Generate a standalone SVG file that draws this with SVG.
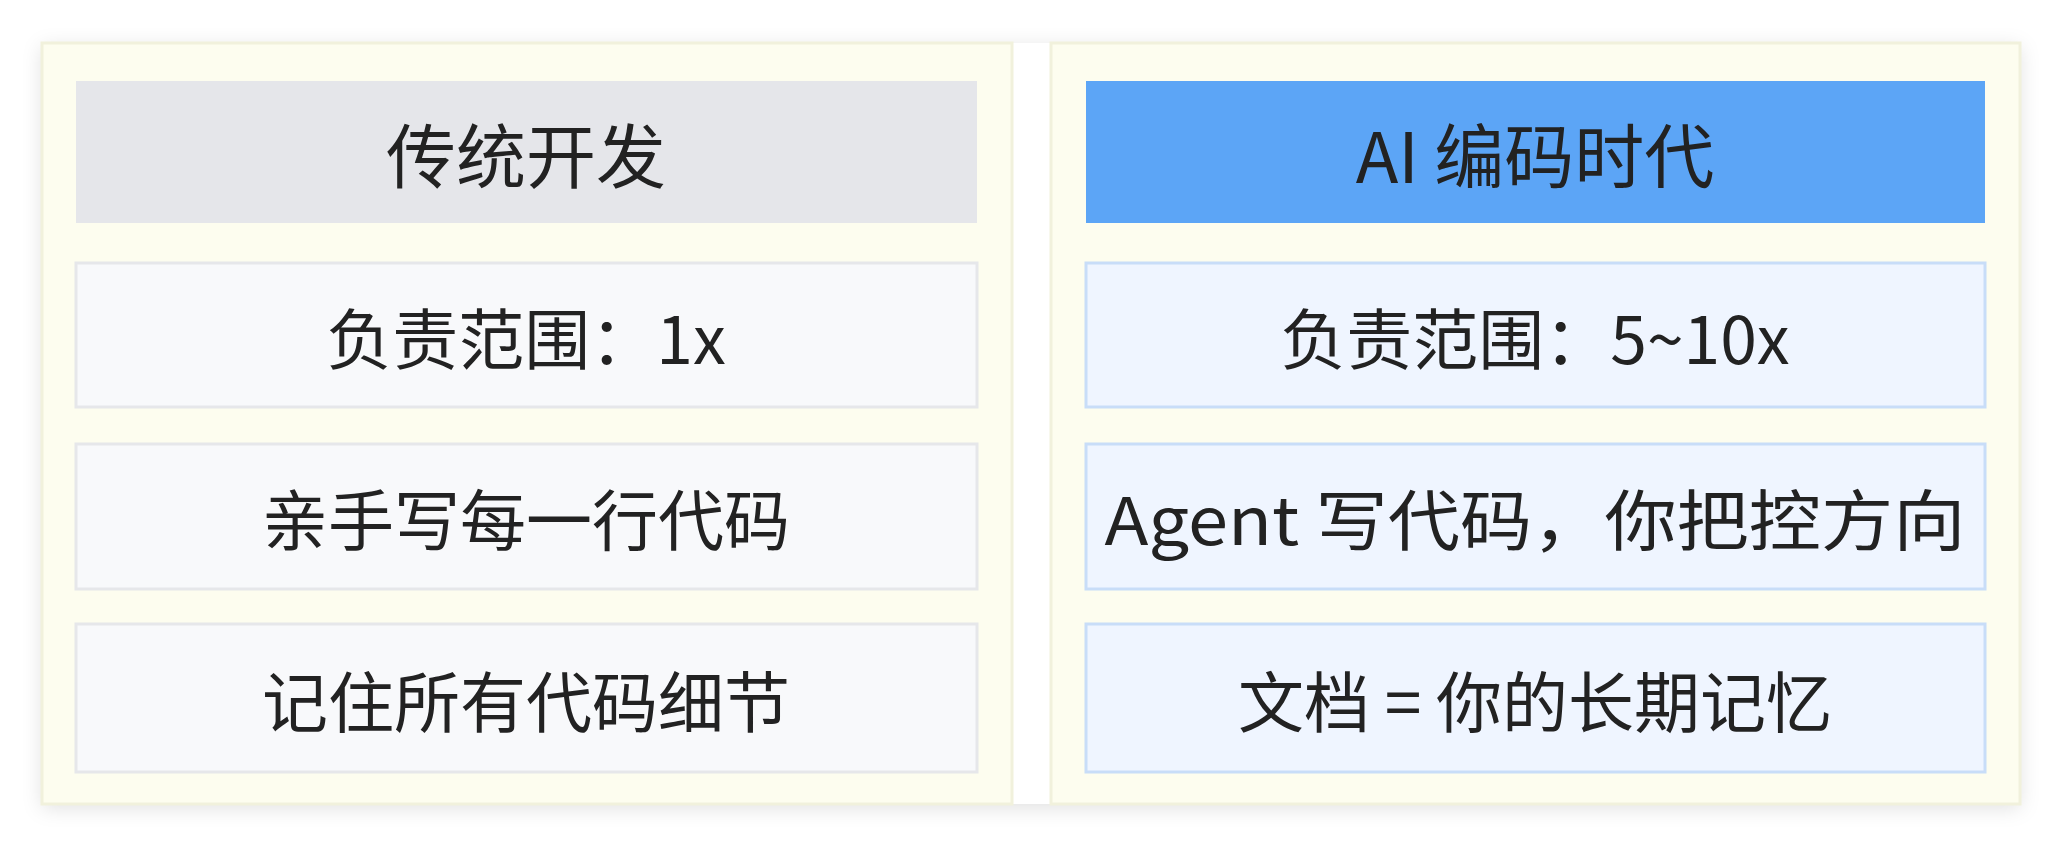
<svg xmlns="http://www.w3.org/2000/svg" width="2061" height="843" viewBox="0 0 2061 843">
<style>
.panel{fill:#fdfdef;stroke:#f1f1dc;stroke-width:3}
.row-l{fill:#f8f9fb;stroke:#e6e7ea;stroke-width:3}
.row-r{fill:#eff5ff;stroke:#c8ddf8;stroke-width:3}
text{font-family:"Noto Sans CJK SC","Noto Sans",sans-serif;fill:#222;text-anchor:middle;dominant-baseline:central}
.h{font-size:70px}
.t{font-size:66px}
</style>
<defs><filter id="sh" x="-5%" y="-5%" width="110%" height="110%"><feDropShadow dx="0" dy="4" stdDeviation="10" flood-color="#000" flood-opacity="0.12"/></filter></defs>
<rect width="2061" height="843" fill="#ffffff"/>
<rect x="42" y="43" width="1978" height="761" fill="#fff" filter="url(#sh)"/>
<g id="left">
<rect class="panel" x="42" y="43" width="970" height="761"/>
<g id="l-head"><rect x="76" y="81" width="901" height="142" fill="#e5e6ea"/><text class="h" x="526" y="152">传统开发</text></g>
<g id="l-1"><rect class="row-l" x="76" y="263" width="901" height="144"/><text class="t" x="526" y="335">负责范围：1x</text></g>
<g id="l-2"><rect class="row-l" x="76" y="444" width="901" height="145"/><text class="t" x="526" y="516">亲手写每一行代码</text></g>
<g id="l-3"><rect class="row-l" x="76" y="624" width="901" height="148"/><text class="t" x="526" y="698">记住所有代码细节</text></g>
</g>
<g id="right">
<rect class="panel" x="1051" y="43" width="969" height="761"/>
<g id="r-head"><rect x="1086" y="81" width="899" height="142" fill="#5ca5f6"/><text class="h" x="1535" y="152">AI 编码时代</text></g>
<g id="r-1"><rect class="row-r" x="1086" y="263" width="899" height="144"/><text class="t" x="1535" y="335">负责范围：5~10x</text></g>
<g id="r-2"><rect class="row-r" x="1086" y="444" width="899" height="145"/><text class="t" x="1535" y="516" textLength="861" lengthAdjust="spacingAndGlyphs">Agent 写代码，你把控方向</text></g>
<g id="r-3"><rect class="row-r" x="1086" y="624" width="899" height="148"/><text class="t" x="1535" y="698">文档 = 你的长期记忆</text></g>
</g>
<g id="connectors"/>
</svg>
